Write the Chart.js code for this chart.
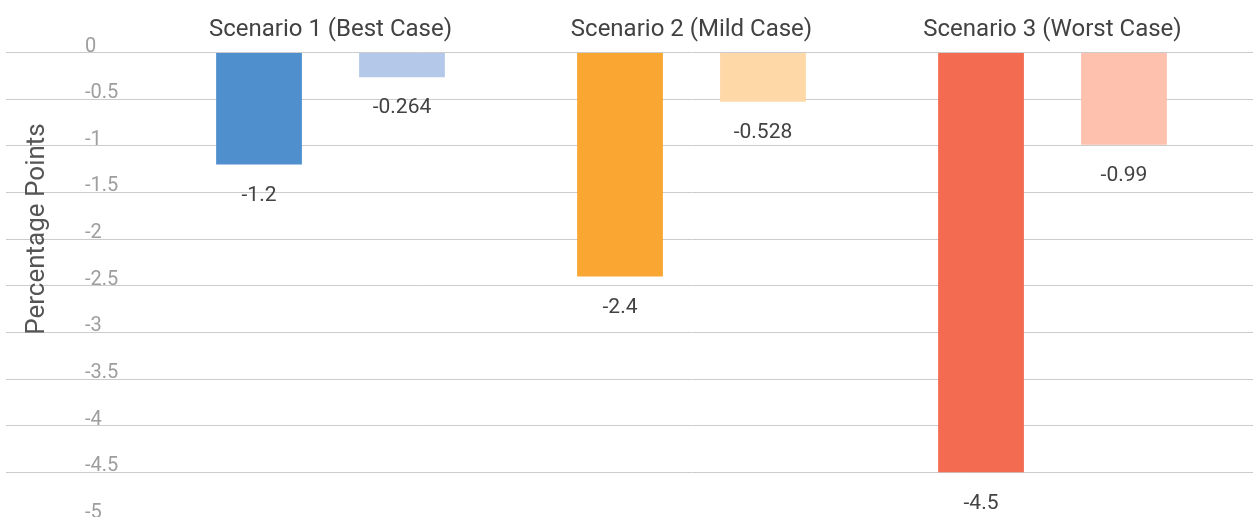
<!DOCTYPE html>
<html>
<head>
<meta charset="utf-8">
<script src="https://cdn.jsdelivr.net/npm/chart.js@4.4.1/dist/chart.umd.min.js"></script>
<style>
  html, body { margin: 0; padding: 0; overflow: hidden; background: #fff; }
  canvas { display: block; }
</style>
</head>
<body>
<canvas id="chart" width="1253" height="519"></canvas>
<script>
const FONT       = "Roboto, 'Noto Sans', sans-serif";
const GRID_COLOR = '#cccccc';
const TICK_COLOR = '#9e9e9e';
const TEXT_COLOR = '#424242';

// ── Data ────────────────────────────────────────────────────────────────
const categories  = ['Scenario 1 (Best Case)', 'Scenario 2 (Mild Case)', 'Scenario 3 (Worst Case)'];
const seriesA     = [-1.2, -2.4, -4.5];
const seriesB     = [-0.264, -0.528, -0.99];
const labelsA     = ['-1.2', '-2.4', '-4.5'];
const labelsB     = ['-0.264', '-0.528', '-0.99'];
const colorsA     = ['#4f8fcd', '#f9a633', '#f36c52'];
const colorsB     = ['#b4c8ea', '#fed8a7', '#fdc1ae'];
const yAxisTitle  = 'Percentage Points';

// Value labels under each bar end
const barValueLabels = {
  id: 'barValueLabels',
  afterDatasetsDraw(chart) {
    const { ctx } = chart;
    const texts = [labelsA, labelsB];
    ctx.save();
    ctx.font = `21px ${FONT}`;
    ctx.fillStyle = TEXT_COLOR;
    ctx.textAlign = 'center';
    ctx.textBaseline = 'middle';
    chart.data.datasets.forEach((ds, i) => {
      chart.getDatasetMeta(i).data.forEach((bar, j) => {
        ctx.fillText(texts[i][j], bar.x, bar.y + 31);
      });
    });
    ctx.restore();
  },
};

// Axis title, placed like the reference (not centred on the plot area)
const sideTitle = {
  id: 'sideTitle',
  afterDraw(chart) {
    const { ctx } = chart;
    ctx.save();
    ctx.translate(37, 229);
    ctx.rotate(-Math.PI / 2);
    ctx.font = `26px ${FONT}`;
    ctx.fillStyle = '#555555';
    ctx.textAlign = 'center';
    ctx.textBaseline = 'middle';
    ctx.fillText(yAxisTitle, 0, 0);
    ctx.restore();
  },
};

// fixed axis sizes, no extra label padding
const fixSize = (w, h) => (scale) => {
  if (w != null) scale.width = w;
  if (h != null) scale.height = h;
  scale.paddingTop = 0;
  scale.paddingBottom = 0;
  scale.paddingLeft = 0;
  scale.paddingRight = 0;
};

new Chart(document.getElementById('chart'), {
  type: 'bar',
  data: {
    labels: categories,
    datasets: [
      {
        label: 'Series A',
        data: seriesA,
        backgroundColor: colorsA,
        borderWidth: 0,
        categoryPercentage: 0.792,
        barPercentage: 0.6,
      },
      {
        label: 'Series B',
        data: seriesB,
        backgroundColor: colorsB,
        borderWidth: 0,
        categoryPercentage: 0.792,
        barPercentage: 0.6,
      },
    ],
  },
  options: {
    responsive: false,
    animation: false,
    layout: { padding: { left: 85, right: 0, top: 13, bottom: 0 } },
    plugins: {
      legend:  { display: false },
      tooltip: { enabled: false },
    },
    scales: {
      x: {
        position: 'top',
        grid:   { display: false, drawTicks: false },
        border: { display: false },
        afterFit: fixSize(null, 39.5),
        ticks: {
          color: TEXT_COLOR,
          font: { family: FONT, size: 24 },
          padding: 8,
          maxRotation: 0,
        },
      },
      y: {
        position: 'left',
        min: -5,
        max: 0,
        afterFit: fixSize(65, null),
        grid: {
          color: GRID_COLOR,
          lineWidth: 1,
          drawTicks: true,
          tickLength: 144,
        },
        border: { display: false },
        ticks: {
          stepSize: 0.5,
          crossAlign: 'far',
          labelOffset: -6,
          color: TICK_COLOR,
          font: { family: FONT, size: 20 },
          callback: (v) => String(Math.round(v * 10) / 10),
        },
      },
      y2: {
        position: 'right',
        min: -5,
        max: 0,
        afterFit: fixSize(20, null),
        grid: {
          color: GRID_COLOR,
          lineWidth: 1,
          drawOnChartArea: false,
          drawTicks: true,
          tickLength: 20,
        },
        border: { display: false },
        ticks: { stepSize: 0.5, display: false },
      },
    },
  },
  plugins: [barValueLabels, sideTitle],
});
</script>
</body>
</html>
